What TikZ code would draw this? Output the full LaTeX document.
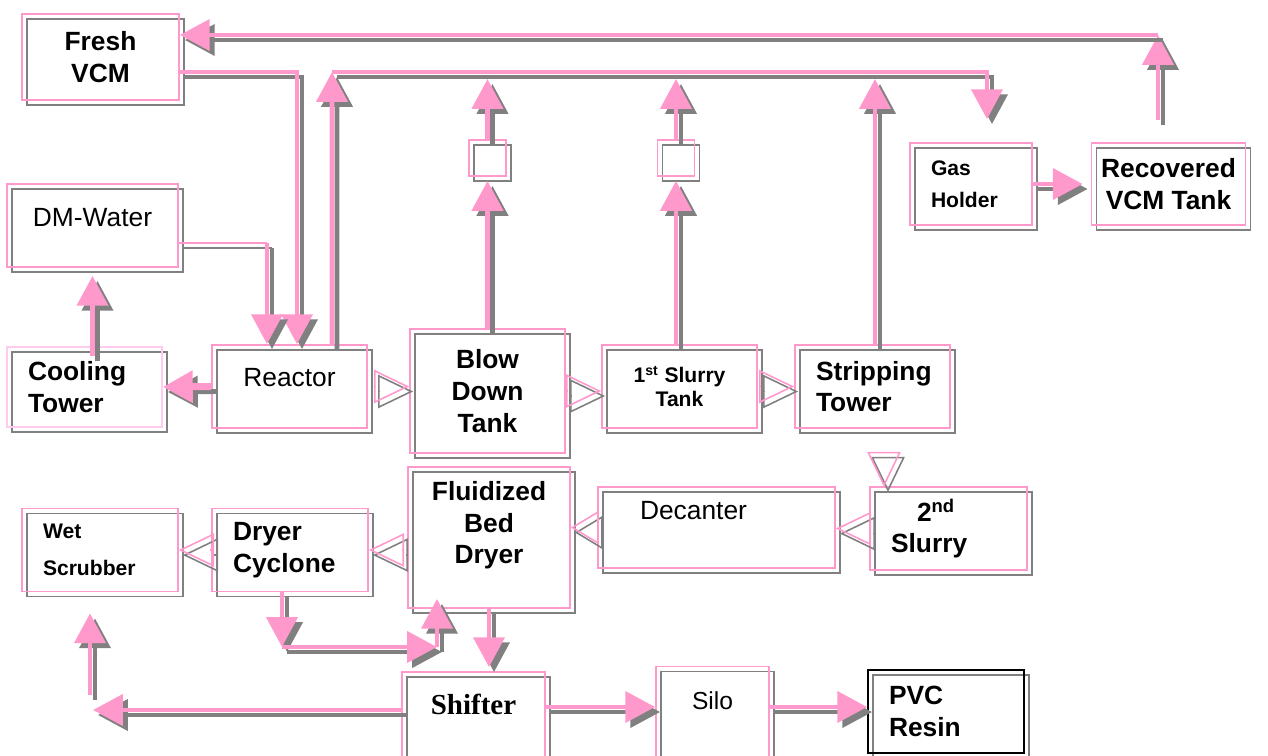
\documentclass[tikz,border=0pt]{standalone}
\usepackage{fontspec}
\setmainfont{Liberation Sans}
\newfontfamily\timesfont{Liberation Serif}
\usepackage{tikz}
\usetikzlibrary{arrows.meta,calc}
\definecolor{flowpink}{RGB}{255,153,204}
\definecolor{palepink}{RGB}{255,204,238}
\definecolor{shade}{RGB}{128,128,128}

\begin{document}
\begin{tikzpicture}[x=0.02cm, y=-0.02cm,
  unit/.style={draw=flowpink, line width=1pt, inner sep=0pt,
    preaction={draw=shade, line width=1pt, transform canvas={shift={(5,5)}}}},
  lefty/.style={align=left, inner xsep=0.42cm},
  big/.style={font=\fontsize{15}{18}\selectfont\bfseries},
  plain/.style={font=\fontsize{15}{18}\selectfont},
  small/.style={font=\fontsize{12}{18}\selectfont\bfseries},
  pipe/.style={draw=flowpink, line width=2.8pt, -{Triangle[length=17pt,width=17.5pt]},
    preaction={draw=shade, line width=2.8pt, -{Triangle[length=17pt,width=17.5pt]},
      transform canvas={shift={(5,5)}}}},
  thinpipe/.style={draw=flowpink, line width=0.9pt,
    preaction={draw=shade, line width=0.9pt, transform canvas={shift={(5,5)}}}},
  hollow/.style={draw=flowpink, line width=0.9pt, -{Triangle[open,length=#1,width=19pt]},
    preaction={draw=shade, line width=0.9pt, -{Triangle[open,length=#1,width=19pt]},
      transform canvas={shift={(4,5)}}}},
  hollow/.default=20pt]
\useasboundingbox (0,0) rectangle (1268,755);

% units
\node[unit, big, align=center, minimum width=3.14cm, minimum height=1.72cm] (fresh) at (100.5,57) {Fresh\\VCM};
\node[unit, plain, minimum width=3.42cm, minimum height=1.66cm, text depth=9.6pt] (dmw) at (92.5,225.5) {DM-Water};
\node[unit, draw=palepink, big, lefty, text width=2.26cm, minimum width=3.10cm, minimum height=1.60cm] (cool) at (84.5,387) {Cooling\\Tower};
\node[unit, plain, minimum width=3.10cm, minimum height=1.66cm, text depth=10.8pt] (reactor) at (289.5,386.5) {Reactor};
\node[unit, big, align=center, minimum width=3.10cm, minimum height=2.48cm] (blow) at (487.5,391) {Blow\\Down\\Tank};
\node[unit, font=\fontsize{12}{13.6}\selectfont\bfseries, align=center, minimum width=3.10cm, minimum height=1.66cm] (slurry1) at (679.5,386.5) {1\textsuperscript{st} Slurry\\Tank};
\node[unit, big, lefty, text width=2.26cm, minimum width=3.10cm, minimum height=1.66cm] (strip) at (872.5,386.5) {Stripping\\Tower};
\node[unit, small, lefty, text width=1.60cm, minimum width=2.44cm, minimum height=1.64cm] (gas) at (971,184) {Gas\\Holder};
\node[unit, big, align=center, minimum width=3.08cm, minimum height=1.64cm] (recov) at (1168.5,184) {Recovered\\VCM Tank};
\node[unit, minimum width=0.74cm, minimum height=0.72cm] (valve1) at (487.5,158) {};
\node[unit, minimum width=0.74cm, minimum height=0.72cm] (valve2) at (676,158) {};

\node[unit, font=\fontsize{12}{21}\selectfont\bfseries, lefty, text width=2.28cm, minimum width=3.12cm, minimum height=1.66cm] (wet) at (100,550) {Wet\\Scrubber};
\node[unit, big, lefty, text width=2.28cm, minimum width=3.12cm, minimum height=1.66cm] (cyclone) at (290,550) {Dryer\\Cyclone};
\node[unit, big, align=center, minimum width=3.24cm, minimum height=2.82cm, text depth=16.8pt] (fbd) at (489,537.5) {Fluidized\\Bed\\Dryer};
\node[unit, plain, lefty, inner xsep=0.84cm, text width=3.06cm, minimum width=4.74cm, minimum height=1.62cm, text depth=19.8pt] (decanter) at (716.5,527.5) {Decanter};
\node[unit, big, lefty, text width=2.30cm, minimum width=3.14cm, minimum height=1.66cm] (slurry2) at (948.5,528.5) {\hspace*{0.52cm}2\textsuperscript{nd}\\Slurry};
\node[unit, font=\fontsize{16.5}{19}\selectfont\timesfont\bfseries, minimum width=2.86cm, minimum height=2.0cm, text depth=20pt] (shifter) at (473.5,722) {Shifter};
\node[unit, font=\fontsize{14}{17}\selectfont, minimum width=2.26cm, minimum height=2.06cm, text depth=20.4pt] (silo) at (712.5,718) {Silo};
\node[unit, draw=black, big, lefty, text width=2.28cm, minimum width=3.12cm, minimum height=1.66cm] (pvc) at (946,711.5) {PVC\\Resin};

% vapour recovery
\coordinate (rtop) at (1158,120);
\coordinate (rcorner) at (1158,35);
\draw[pipe] (rtop) -- (rcorner);
\draw[pipe] (rcorner) -- (fresh.east |- rcorner);
\coordinate (hdr) at (332,72);
\draw[pipe] ([xshift=0.85cm]reactor.north) -- (hdr);
\draw[pipe, shorten >=0.46cm] (hdr) -| ([xshift=0.32cm]gas.north);
\draw[pipe, shorten >=0.08cm] (blow.north -| valve1) -- (valve1.south);
\draw[pipe, shorten >=0.14cm] (valve1.north) -- (valve1 |- hdr);
\draw[pipe, shorten >=0.08cm] (slurry1.north -| valve2) -- (valve2.south);
\draw[pipe, shorten >=0.14cm] (valve2.north) -- (valve2 |- hdr);
\draw[pipe, shorten >=0.14cm] ([xshift=0.05cm]strip.north) -- ([xshift=0.05cm]strip.north |- hdr);
\draw[pipe, shorten >=0.16cm] (gas.east) -- (recov.west);

% feeds
\draw[pipe] ([yshift=-0.3cm]fresh.east) -| ([xshift=0.15cm]reactor.north);
\coordinate (dmbend) at (267,243);
\draw[thinpipe] (dmw.east |- dmbend) -- (dmbend);
\draw[pipe] (dmbend) -- (dmbend |- reactor.north);
\draw[pipe, line width=4pt] (reactor.west) -- (cool.east);
\draw[pipe, shorten <=-0.2cm, shorten >=0.16cm] (cool.north -| dmw.south) -- (dmw.south);

% slurry line
\draw[hollow, shorten <=0.154cm] (reactor.east) -- (reactor.east -| blow.west);
\draw[hollow, shorten <=0.034cm] (blow.east) -- (blow.east -| slurry1.west);
\draw[hollow, shorten <=0.054cm] (slurry1.east) -- (slurry1.east -| strip.west);
\coordinate (sdrop) at (884,452);
\coordinate (sdropend) at (884,487);
\draw[hollow] (sdrop) -- (sdropend);
\draw[hollow] (slurry2.west) -- (slurry2.west -| decanter.east);
\draw[hollow=15.9pt] (decanter.west) -- (decanter.west -| fbd.east);
\draw[hollow, shorten <=0.094cm] (cyclone.east -| fbd.west) -- (cyclone.east);
\draw[hollow, shorten <=-0.026cm] (cyclone.west) -- (cyclone.west -| wet.east);

% drying and product
\coordinate (cycbend) at (282,647);
\coordinate (fbdbend) at (437,647);
\draw[pipe] (cyclone.south -| cycbend) -- (cycbend);
\draw[pipe] (cycbend) -- (fbdbend);
\draw[pipe, shorten >=-0.2cm] (fbdbend) -- (fbdbend |- fbd.south);
\draw[pipe, shorten >=0.08cm] (fbd.south) -- (fbd.south |- shifter.north);
\coordinate (wetbend) at (93,710);
\draw[pipe] (shifter.west |- wetbend) -- (wetbend);
\coordinate (wetrise) at (90,695);
\draw[pipe, shorten >=0.42cm] (wetrise) -- (wetrise |- wet.south);
\coordinate (lowline) at (0,707);
\draw[pipe] (shifter.east |- lowline) -- (silo.west |- lowline);
\draw[pipe] (silo.east |- lowline) -- (pvc.west |- lowline);
\end{tikzpicture}
\end{document}
